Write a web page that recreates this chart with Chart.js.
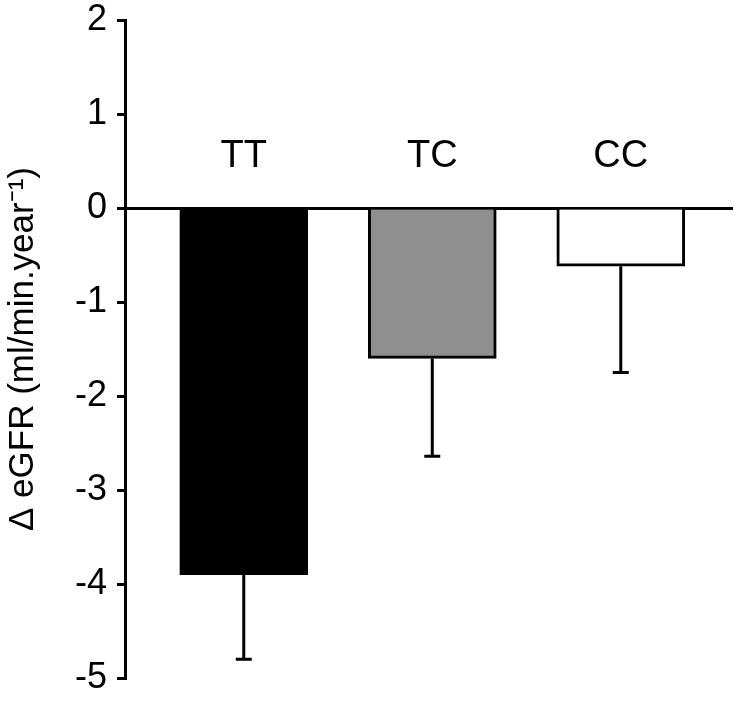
<!DOCTYPE html>
<html>
<head>
<meta charset="utf-8">
<script src="https://cdn.jsdelivr.net/npm/chart.js@4"></script>
<style>
  html, body { margin: 0; padding: 0; background: #fff; }
  #wrap { width: 739px; height: 701px; }
</style>
</head>
<body>
<div id="wrap"><canvas id="c"></canvas></div>
<script>
const categories = ['TT', 'TC', 'CC'];
const means = [-3.9, -1.6, -0.62];
const errLow = [-4.8, -2.64, -1.75];
const fills = ['#000000', '#8f8f8f', '#ffffff'];
const yMin = -5, yMax = 2;

const FONT = "'Liberation Sans', Arial, sans-serif";

// error bars (downward only) + group labels above the zero line
const extras = {
    id: 'extras',
    afterDatasetsDraw(chart) {
        const ctx = chart.ctx;
        const y = chart.scales.y;
        const meta = chart.getDatasetMeta(0);
        ctx.save();
        ctx.strokeStyle = '#000';
        ctx.lineWidth = 3;
        meta.data.forEach((bar, i) => {
            const yEnd = y.getPixelForValue(errLow[i]);
            ctx.beginPath();
            ctx.moveTo(bar.x, bar.y);
            ctx.lineTo(bar.x, yEnd);
            ctx.moveTo(bar.x - 8, yEnd);
            ctx.lineTo(bar.x + 8, yEnd);
            ctx.stroke();
        });
        ctx.fillStyle = '#000';
        ctx.font = '38px ' + FONT;
        ctx.textAlign = 'center';
        ctx.textBaseline = 'middle';
        meta.data.forEach((bar, i) => {
            ctx.fillText(categories[i], bar.x, y.getPixelForValue(0.55));
        });
        ctx.restore();
    }
};

new Chart(document.getElementById('c'), {
    type: 'bar',
    data: {
        datasets: [{
            data: means.map((v, i) => ({ x: i + 1, y: v })),
            backgroundColor: fills,
            borderColor: '#000',
            borderWidth: 3,
            borderSkipped: 'start',
            barThickness: 128
        }]
    },
    options: {
        responsive: true,
        maintainAspectRatio: false,
        animation: false,
        layout: { padding: { top: 20, bottom: 23, right: 7, left: 0 } },
        plugins: { legend: { display: false }, tooltip: { enabled: false } },
        scales: {
            x: {
                type: 'linear',
                position: { y: 0 },
                offset: false,
                min: 0.37, max: 3.59,
                z: 1,
                ticks: { display: false },
                grid: { display: false },
                border: { color: '#000', width: 3 }
            },
            y: {
                min: yMin, max: yMax,
                ticks: { stepSize: 1, color: '#000', padding: 10, font: { family: FONT, size: 36 } },
                grid: { drawOnChartArea: false, tickLength: 8, color: '#000', lineWidth: 3 },
                border: { color: '#000', width: 3 },
                title: {
                    display: true,
                    text: 'Δ eGFR (ml/min.year⁻¹)',
                    color: '#000',
                    font: { family: FONT, size: 35 },
                    padding: { top: 2, bottom: 0 }
                },
                afterFit(scale) {
                    scale.width = 125;
                    scale.paddingTop = 0;
                    scale.paddingBottom = 0;
                }
            }
        }
    },
    plugins: [extras]
});
</script>
</body>
</html>
